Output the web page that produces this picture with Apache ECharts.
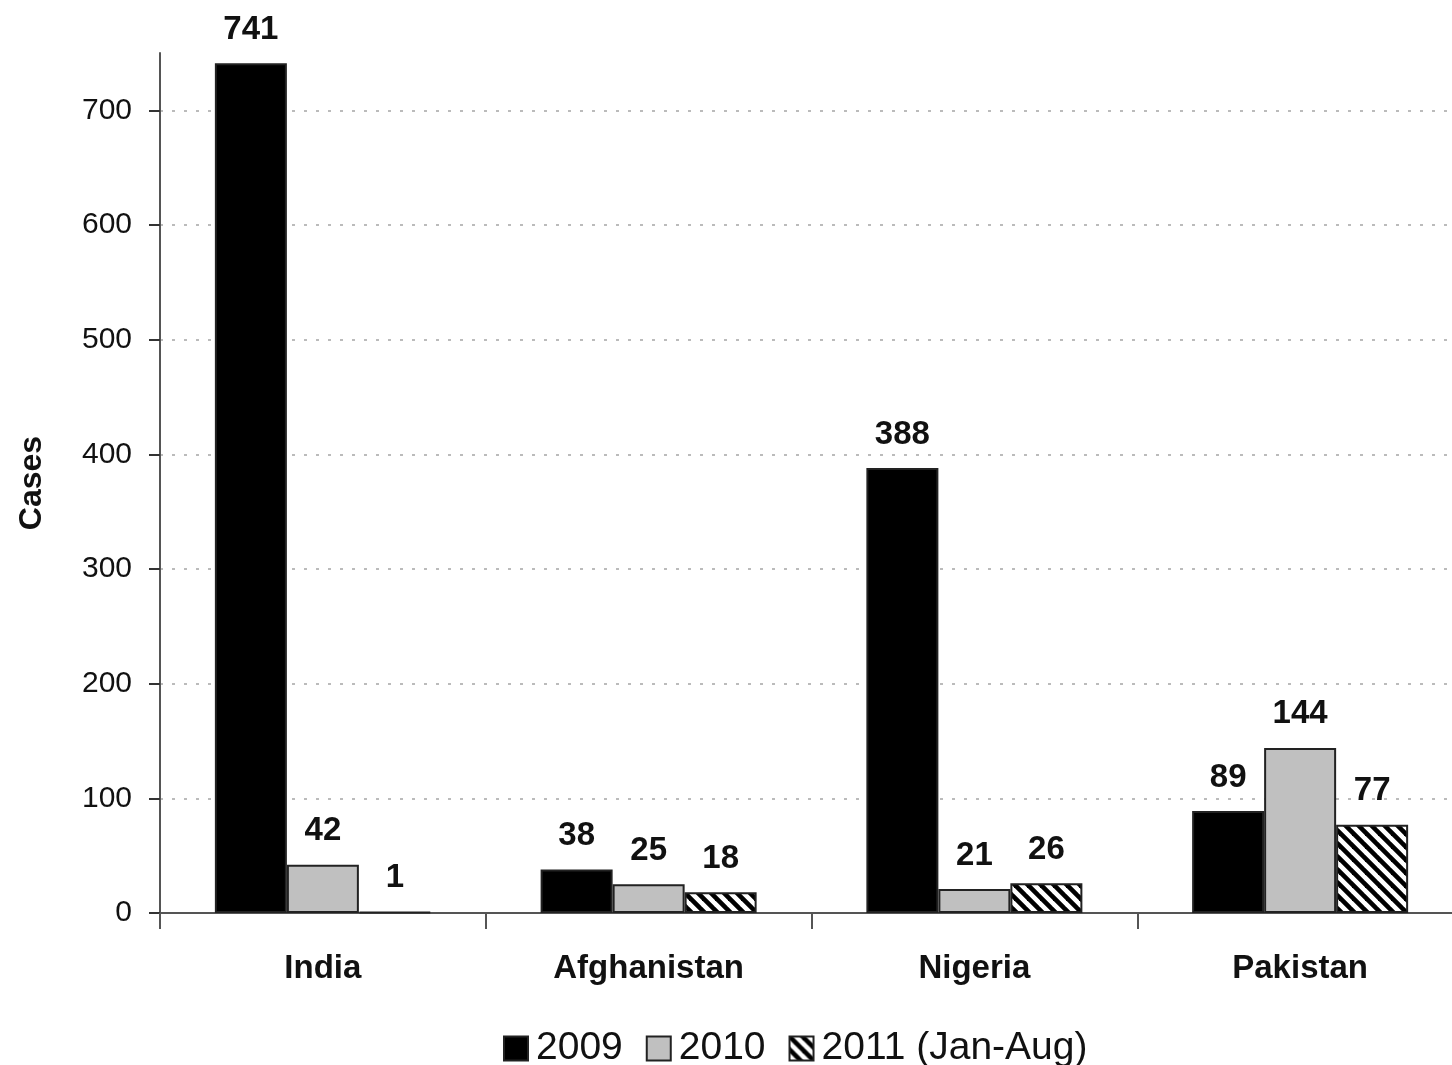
<!DOCTYPE html>
<html>
<head>
<meta charset="utf-8">
<style>
  html, body { margin: 0; padding: 0; background: #fff; }
  #chart { width: 1452px; height: 1065px; }
</style>
<script src="https://cdn.jsdelivr.net/npm/echarts@6/dist/echarts.min.js"></script>
</head>
<body>
<div id="chart"></div>
<script>
// Reported cases by country and year
const countries = ['India', 'Afghanistan', 'Nigeria', 'Pakistan'];
const seriesNames = ['2009', '2010', '2011 (Jan-Aug)'];
const cases2009 = [741, 38, 388, 89];
const cases2010 = [42, 25, 21, 144];
const cases2011 = [1, 18, 26, 77];
const yTicks = [0, 100, 200, 300, 400, 500, 600, 700];

const FONT = '"Liberation Sans", Arial, Helvetica, sans-serif';

// Diagonal hatch fill ("\" direction) for the 2011 bars
function makeHatch() {
  const s = 13;
  const c = document.createElement('canvas');
  c.width = s; c.height = s;
  const g = c.getContext('2d');
  g.fillStyle = '#fff';
  g.fillRect(0, 0, s, s);
  g.strokeStyle = '#000';
  g.lineWidth = 4.6;
  g.lineCap = 'square';
  [-s, 0, s].forEach(dx => {
    g.beginPath();
    g.moveTo(dx, 0);
    g.lineTo(dx + s, s);
    g.stroke();
  });
  return c;
}
const hatch = { image: makeHatch(), repeat: 'repeat' };

const chart = echarts.init(document.getElementById('chart'), null, { renderer: 'canvas' });

const labelStyle = {
  show: true,
  position: 'top',
  distance: 17,
  color: '#111',
  fontFamily: FONT,
  fontWeight: 'bold',
  fontSize: 33
};
const barBorder = { borderColor: '#222', borderWidth: 2 };

chart.setOption({
  backgroundColor: '#fff',
  animation: false,
  textStyle: { fontFamily: FONT },
  grid: {
    left: 160, top: 53, width: 1303, bottom: 152,
    containLabel: false, outerBoundsMode: 'none'
  },
  legend: {
    left: 498,
    top: 1024,
    itemWidth: 24,
    itemHeight: 24,
    itemGap: 23,
    icon: 'rect',
    textStyle: { fontFamily: FONT, fontSize: 39, color: '#111', padding: [0, 0, 0, 3] },
    data: seriesNames
  },
  xAxis: {
    type: 'category',
    data: countries,
    axisLine: { show: true, lineStyle: { color: '#555', width: 2 } },
    axisTick: { show: true, alignWithLabel: false, length: 16, lineStyle: { color: '#555', width: 2 } },
    axisLabel: { color: '#111', fontFamily: FONT, fontWeight: 'bold', fontSize: 33, margin: 39 },
    splitLine: { show: false }
  },
  yAxis: {
    type: 'value',
    min: 0,
    max: 750,
    interval: 100,
    name: 'Cases',
    nameLocation: 'middle',
    nameGap: 112,
    nameRotate: 90,
    nameTextStyle: { color: '#111', fontFamily: FONT, fontWeight: 'bold', fontSize: 32 },
    axisLine: { show: true, lineStyle: { color: '#555', width: 2 } },
    axisTick: {
      show: true, inside: false, length: 11,
      customValues: yTicks,
      lineStyle: { color: '#333', width: 2 }
    },
    axisLabel: {
      color: '#111', fontFamily: FONT, fontSize: 30, margin: 28,
      customValues: yTicks
    },
    splitLine: {
      show: true, showMinLine: false,
      lineStyle: { color: '#bbb', type: [3, 9], width: 2 }
    }
  },
  series: [
    {
      name: seriesNames[0], type: 'bar', data: cases2009,
      barWidth: 72, barGap: '0%',
      itemStyle: Object.assign({ color: '#000' }, barBorder),
      label: labelStyle
    },
    {
      name: seriesNames[1], type: 'bar', data: cases2010,
      barWidth: 72, barGap: '0%',
      itemStyle: Object.assign({ color: '#c0c0c0' }, barBorder),
      label: labelStyle
    },
    {
      name: seriesNames[2], type: 'bar', data: cases2011,
      barWidth: 72, barGap: '0%',
      itemStyle: Object.assign({ color: hatch }, barBorder),
      label: labelStyle
    }
  ]
});
</script>
</body>
</html>
